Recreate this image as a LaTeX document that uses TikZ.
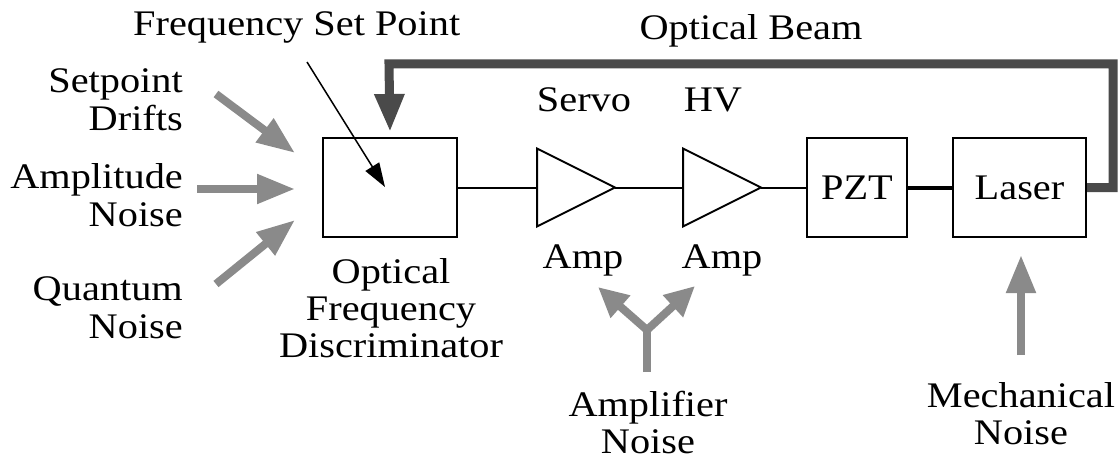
\documentclass[tikz,border=0pt]{standalone}
\usepackage{fontspec}
\setmainfont{Liberation Serif}[FakeStretch=1.12]
\usetikzlibrary{arrows.meta,calc}
\definecolor{noisegray}{HTML}{8A8A8A}
\definecolor{beamgray}{HTML}{4A4A4A}
\begin{document}
\begin{tikzpicture}[x=1pt,y=-1pt,
  lbl/.style={font=\fontsize{36}{37}\selectfont, inner sep=0pt, align=center},
  lblr/.style={font=\fontsize{36}{38}\selectfont, inner sep=0pt, align=right},
  blk/.style={draw, line width=2pt, inner sep=0pt, font=\fontsize{36}{37}\selectfont},
  wire/.style={line width=2pt},
  amp/.style={line width=2pt, line join=miter},
  noise/.style={draw=noisegray, line width=8pt, -{Triangle[length=38pt,width=28pt]}},
  beam/.style={draw=beamgray, line width=9pt, line join=miter, -{Triangle[length=38pt,width=28pt]}},
]
\useasboundingbox (0,0) rectangle (1120,460);

% blocks
\node[blk, minimum width=134pt, minimum height=99pt] (disc) at (390,187.5) {};
\node[blk, minimum width=100pt, minimum height=99pt] (pzt) at (857,187.5) {PZT};
\node[blk, minimum width=133pt, minimum height=99pt] (laser) at (1019.5,187.5) {Laser};

% amplifiers
\coordinate (servoin) at (537,187.5);
\coordinate (servoout) at (615,187.5);
\coordinate (hvin) at (683,187.5);
\coordinate (hvout) at (761,187.5);
\draw[amp] (537,148.5) -- (537,226.5) -- (servoout) -- cycle;
\draw[amp] (683,148.5) -- (683,226.5) -- (hvout) -- cycle;

% wires
\draw[wire] (disc.east) -- (servoin);
\draw[wire] (servoout) -- (hvin);
\draw[wire] (hvout) -- (pzt.west);
\draw[line width=4pt] (pzt.east) -- (laser.west);

% optical beam
\coordinate (bc1) at (1113,187.5);
\coordinate (bc2) at (1113,64);
\coordinate (bc3) at (389,64);
\draw[beam] (laser.east) -- (bc1) -- (bc2) -- (bc3) -- ($(disc.north)+(0,-5)$);

% frequency set point
\node[lbl, anchor=base west] (fsp) at (133,36) {Frequency Set Point};
\coordinate (fspA) at (307,62);
\coordinate (fspB) at (385,187);
\draw[line width=1.5pt, -{Triangle[length=24pt,width=16pt]}] (fspA) -- (fspB);

% labels (base = baseline of the last line)
\node[lbl, anchor=base] (beamlbl) at (751,40) {Optical Beam};
\node[lblr, anchor=base east] (sdl) at (183,130.5) {Setpoint\\Drifts};
\node[lblr, anchor=base east] (anl) at (183,226.5) {Amplitude\\Noise};
\node[lblr, anchor=base east] (qnl) at (183,338) {Quantum\\Noise};
\node[lbl, anchor=base] (servol) at (584,111) {Servo};
\node[lbl, anchor=base] (hvl) at (713,111) {HV};
\node[lbl, anchor=base] (amp1l) at (583,268) {Amp};
\node[lbl, anchor=base] (amp2l) at (722,268) {Amp};
\node[lbl, anchor=base] (discl) at (391,357) {Optical\\Frequency\\Discriminator};
\node[lbl, anchor=base] (ampnl) at (648,453) {Amplifier\\Noise};
\node[lbl, anchor=base] (mechl) at (1021,444) {Mechanical\\Noise};

% noise arrows
\coordinate (sdA) at (216,94);
\coordinate (sdB) at (295,153);
\coordinate (anA) at (197,189);
\coordinate (anB) at (295,189);
\coordinate (qnA) at (216,284);
\coordinate (qnB) at (295,220);
\draw[noise] (sdA) -- (sdB);
\draw[noise] (anA) -- (anB);
\draw[noise] (qnA) -- (qnB);

\coordinate (amB) at (647,372);
\coordinate (amJ) at (647,330);
\coordinate (amL) at (598,287);
\coordinate (amR) at (695,286);
\draw[draw=noisegray, line width=8pt] (amB) -- (amJ);
\draw[draw=noisegray, line width=8pt, line join=miter,
  {Triangle[length=30pt,width=28pt]}-{Triangle[length=30pt,width=28pt]}] (amL) -- (amJ) -- (amR);

\coordinate (mnA) at (1021,355);
\coordinate (mnB) at (1021,255);
\draw[noise] (mnA) -- (mnB);
\end{tikzpicture}
\end{document}
